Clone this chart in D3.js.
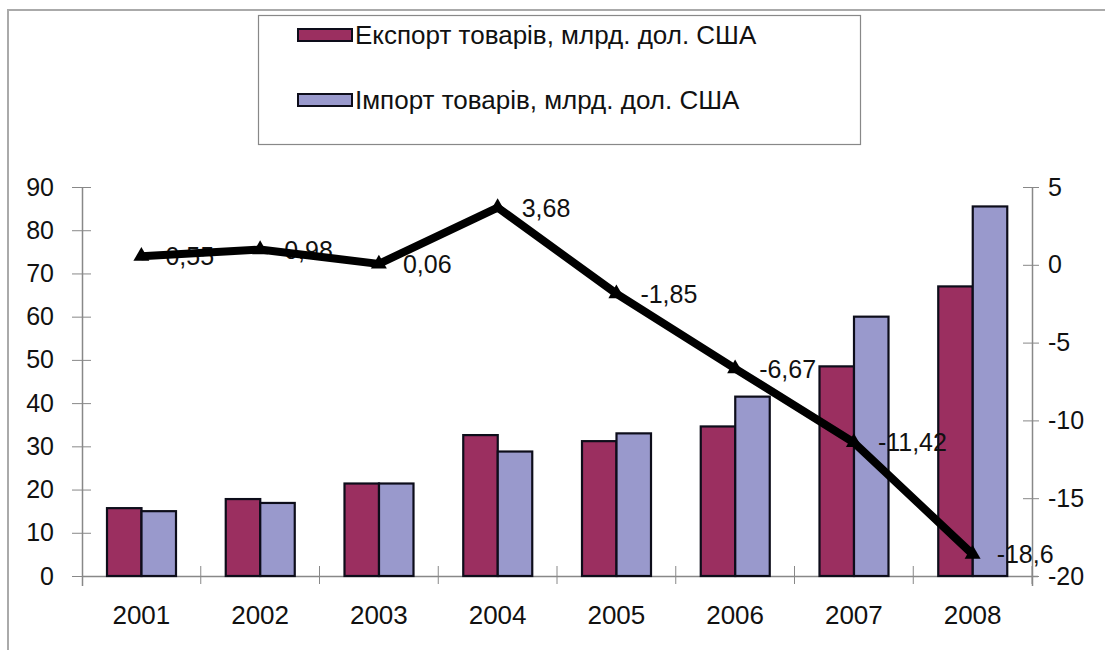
<!DOCTYPE html>
<html><head><meta charset="utf-8">
<script src="https://cdn.jsdelivr.net/npm/d3@7"></script>
<style>body{margin:0;background:#fff}svg{display:block}text{font-family:"Liberation Sans",Arial,sans-serif;fill:#111}</style>
</head><body>
<script>
const categories = ["2001","2002","2003","2004","2005","2006","2007","2008"];
const exportValues = [15.7, 17.8, 21.4, 32.6, 31.2, 34.6, 48.5, 67.0];
const importValues = [15.0, 16.9, 21.4, 28.8, 33.0, 41.5, 60.0, 85.5];
const balanceValues = [0.55, 0.98, 0.06, 3.68, -1.85, -6.67, -11.42, -18.6];
const balanceLabels = ["0,55","0,98","0,06","3,68","-1,85","-6,67","-11,42","-18,6"];
const leftTicks = [0,10,20,30,40,50,60,70,80,90];
const rightTicks = [-20,-15,-10,-5,0,5];
const seriesNames = ["Експорт товарів, млрд. дол. США","Імпорт товарів, млрд. дол. США"];
const colors = ["#9b2f60","#9999cc"];

const W=1105,H=650;
const svg=d3.select("body").append("svg").attr("width",W).attr("height",H);
// frame
svg.append("path").attr("d","M8,650V10H1105").attr("fill","none").attr("stroke","#aaa").attr("stroke-width",2);

const pL=82,pR=1032,pT=187,pB=576;
const x=d3.scaleBand().domain(categories).range([pL,pR]);
const xs=d3.scaleBand().domain([0,1]).range([25,94]);
const yL=d3.scaleLinear().domain([0,90]).range([pB,pT]);
const yR=d3.scaleLinear().domain([-20,5]).range([pB,pT]);

// axes
const axisColor="#888";
const gL=svg.append("g").attr("transform",`translate(${pL},0)`)
  .call(d3.axisLeft(yL).tickValues(leftTicks).tickSize(10).tickPadding(18));
gL.selectAll(".tick line").attr("x2",-10).attr("x1",9);
const gR=svg.append("g").attr("transform",`translate(${pR},0)`)
  .call(d3.axisRight(yR).tickValues(rightTicks).tickFormat(d=>String(d)).tickSize(8).tickPadding(8));
gR.selectAll(".tick line").attr("x1",-9).attr("x2",7);
const gB=svg.append("g").attr("transform",`translate(0,${pB})`)
  .call(d3.axisBottom(x).tickSize(0).tickPadding(30));
// category boundary ticks
gB.selectAll(".bt").data(categories.slice(1).concat(["_end"])).enter().append("line")
  .attr("x1",d=>d==="_end"?pR:x(d)).attr("x2",d=>d==="_end"?pR:x(d))
  .attr("y1",-10).attr("y2",8).attr("stroke",axisColor);
[gL,gR,gB].forEach(g=>{
  g.selectAll(".domain").attr("stroke",axisColor).attr("stroke-width",1.5);
  g.selectAll(".tick line").attr("stroke",axisColor);
  g.selectAll("text").attr("font-size",25).attr("fill","#111").attr("font-family",'"Liberation Sans",Arial,sans-serif');
});
gB.select(".domain").attr("d",`M${pL},0.5H${pR+6}`);
gL.select(".domain").attr("d",`M0.5,${pT}V${pB+10}`);
gR.select(".domain").attr("d",`M0.5,${pT}V${pB+10}`);
gB.selectAll(".tick text").attr("font-size",26);

// bars
const series=[exportValues,importValues];
series.forEach((vals,si)=>{
  svg.append("g").selectAll("rect").data(vals).enter().append("rect")
    .attr("x",(d,i)=>x(categories[i])+xs(si))
    .attr("width",xs.bandwidth())
    .attr("y",d=>yL(d)).attr("height",d=>pB-yL(d))
    .attr("fill",colors[si]).attr("stroke","#0d0d1a").attr("stroke-width",2.2);
});

const cx=i=>x(categories[i])+x.bandwidth()/2;
// labels
svg.append("g").selectAll("text").data(balanceValues).enter().append("text")
  .attr("x",(d,i)=>cx(i)+24).attr("y",d=>yR(d)).attr("dy","0.36em")
  .attr("font-size",25).text((d,i)=>balanceLabels[i]);
// line
svg.append("path").datum(balanceValues)
  .attr("d",d3.line().x((d,i)=>cx(i)).y(d=>yR(d)))
  .attr("fill","none").attr("stroke","#000").attr("stroke-width",8).attr("stroke-linejoin","miter");
svg.append("g").selectAll("path").data(balanceValues).enter().append("path")
  .attr("d",d3.symbol().type(d3.symbolTriangle).size(110))
  .attr("transform",(d,i)=>`translate(${cx(i)},${yR(d)})`).attr("fill","#000");

// legend
const lg=svg.append("g");
lg.append("rect").attr("x",258.5).attr("y",15.5).attr("width",602).attr("height",129)
  .attr("fill","#fff").attr("stroke","#888").attr("stroke-width",1.2);
seriesNames.forEach((n,i)=>{
  const yy=[35,100][i];
  lg.append("rect").attr("x",298).attr("y",yy-6).attr("width",54).attr("height",12)
    .attr("fill",colors[i]).attr("stroke","#0d0d1a").attr("stroke-width",2);
  lg.append("text").attr("x",355).attr("y",yy).attr("dy","0.36em").attr("font-size",26).text(n);
});
</script>
</body></html>
